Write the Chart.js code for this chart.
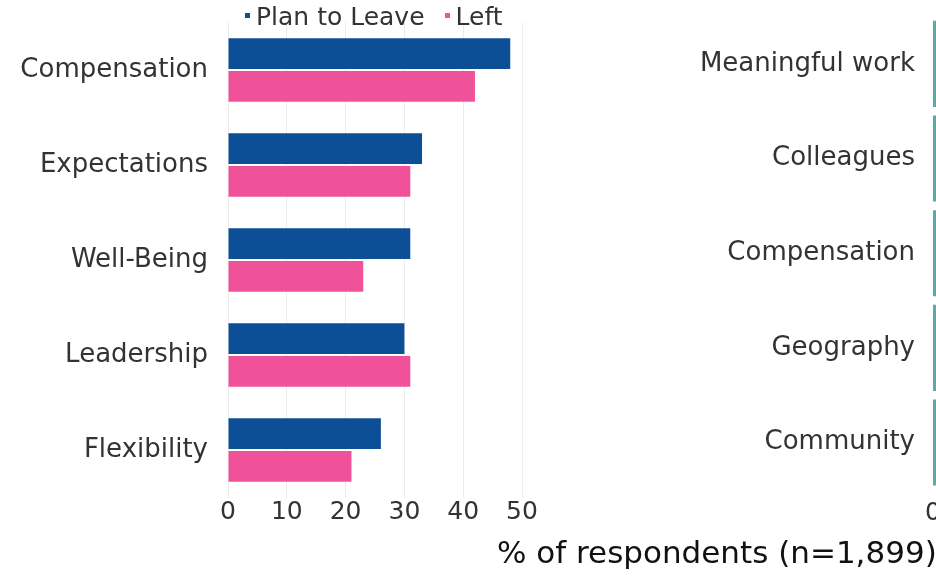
<!DOCTYPE html>
<html>
<head>
<meta charset="utf-8">
<script src="https://cdn.jsdelivr.net/npm/chart.js@4.4.1/dist/chart.umd.min.js"></script>
<style>
    html, body { margin: 0; padding: 0; background: #fff; overflow: hidden; }
    #wrap { position: relative; width: 936px; height: 578px; overflow: hidden; }
    #box_left { position: absolute; left: 0; top: 0; width: 545px; height: 578px; }
    #box_right { position: absolute; left: 497px; top: 0; width: 900px; height: 578px; }
    #legend_left {
        position: absolute; top: 2px; left: 245px;
        display: flex; align-items: center;
        font-family: 'DejaVu Sans'; font-size: 25px; color: #333;
    }
    #legend_left .item { display: flex; align-items: center; margin-right: 20px; }
    #legend_left .swatch { width: 5px; height: 5px; margin-right: 6px; margin-top: -2px; }
</style>
</head>
<body>
<div id="wrap">
    <div id="box_left"><canvas id="chart_left"></canvas></div>
    <div id="box_right"><canvas id="chart_right"></canvas></div>
    <div id="legend_left"></div>
</div>
<script>
// left panel: reasons for leaving
const categories = ['Compensation', 'Expectations', 'Well-Being', 'Leadership', 'Flexibility'];
const planToLeave = [48, 33, 31, 30, 26];
const left = [42, 31, 23, 31, 21];
const xTicks = [0, 10, 20, 30, 40, 50];

// right panel (cut off at the edge of the picture)
const stayCategories = ['Meaningful work', 'Colleagues', 'Compensation', 'Geography', 'Community'];
const stayValues = [52, 41, 36, 31, 28];

const axisTitle = '% of respondents (n=1,899)';

const BLUE = '#0c4f97';
const PINK = '#f0529a';
const TEAL = '#5ea9a2';

Chart.defaults.font.family = 'DejaVu Sans';
Chart.defaults.color = '#333';
Chart.defaults.animation = false;

const ds_plan = {
    label: 'Plan to Leave',
    data: planToLeave,
    backgroundColor: BLUE,
    barPercentage: 0.94,
    categoryPercentage: 0.69
};
const ds_left = {
    label: 'Left',
    data: left,
    backgroundColor: PINK,
    barPercentage: 0.94,
    categoryPercentage: 0.69
};

new Chart(document.getElementById('chart_left'), {
    type: 'bar',
    data: {
        labels: categories,
        datasets: [ds_plan, ds_left]
    },
    options: {
        indexAxis: 'y',
        responsive: true,
        maintainAspectRatio: false,
        layout: { padding: { top: 22.5, right: 23, bottom: 0, left: 0 } },
        plugins: {
            legend: { display: false },
            tooltip: { enabled: false }
        },
        scales: {
            x: {
                min: xTicks[0],
                max: xTicks[xTicks.length - 1],
                afterBuildTicks: function (scale) {
                    scale.ticks = xTicks.map(v => ({ value: v }));
                },
                afterFit: function (scale) { scale.height = 80.5; },
                grid: { color: '#ececec', drawTicks: false },
                border: { display: false },
                ticks: { padding: 0, font: { size: 25 }, color: '#333' }
            },
            y: {
                afterFit: function (scale) { scale.width = 228; },
                grid: { display: false },
                border: { display: false },
                // small line height so the labels don't push the plot area down
                ticks: { padding: 12, font: { size: 26, lineHeight: 0.5 }, color: '#333' }
            }
        }
    }
});

// html legend, built from the datasets
const legendBox = document.getElementById('legend_left');
[ds_plan, ds_left].forEach(ds => {
    const item = document.createElement('div');
    item.className = 'item';
    const sw = document.createElement('span');
    sw.className = 'swatch';
    sw.style.background = ds.backgroundColor;
    const txt = document.createElement('span');
    txt.textContent = ds.label;
    item.appendChild(sw);
    item.appendChild(txt);
    legendBox.appendChild(item);
});

new Chart(document.getElementById('chart_right'), {
    type: 'bar',
    data: {
        labels: stayCategories,
        datasets: [{
            label: 'Stay',
            data: stayValues,
            backgroundColor: TEAL,
            barPercentage: 1.0,
            categoryPercentage: 0.91
        }]
    },
    options: {
        indexAxis: 'y',
        responsive: true,
        maintainAspectRatio: false,
        layout: { padding: { top: 16.6, right: 0, bottom: 0, left: 0 } },
        plugins: {
            legend: { display: false },
            tooltip: { enabled: false },
            title: {
                display: true,
                position: 'bottom',
                align: 'start',
                text: axisTitle,
                color: '#111',
                font: { size: 31, weight: 'normal' },
                padding: { top: 0, bottom: 4 }
            }
        },
        scales: {
            x: {
                min: 0,
                max: 60,
                afterFit: function (scale) { scale.height = 47; },
                grid: { display: false },
                border: { display: false },
                ticks: { padding: 1, stepSize: 10, font: { size: 25 }, color: '#333' }
            },
            y: {
                afterFit: function (scale) { scale.width = 436; },
                grid: { display: false },
                border: { display: false },
                ticks: { padding: 10, font: { size: 26, lineHeight: 0.5 }, color: '#333' }
            }
        }
    }
});
</script>
</body>
</html>
